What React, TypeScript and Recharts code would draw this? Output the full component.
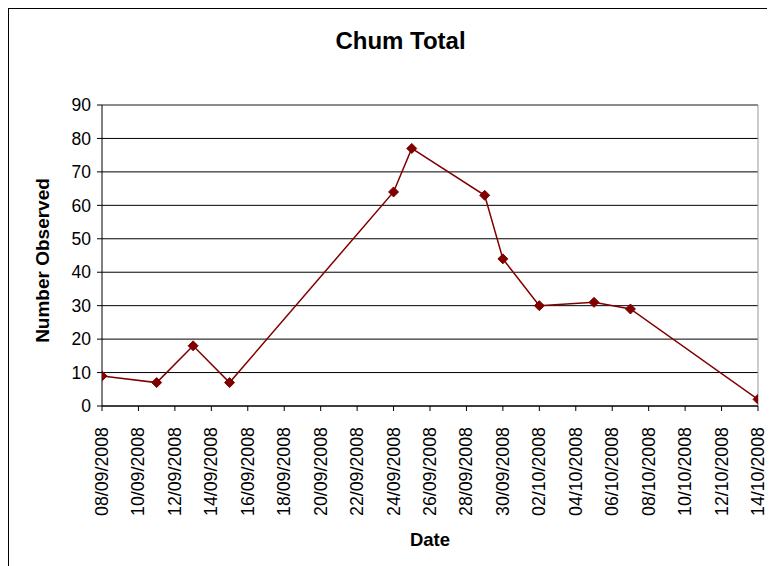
import { CartesianGrid, Label, Line, LineChart, XAxis, YAxis } from "recharts";

const sampleDates = [
  "08/09/2008", "11/09/2008", "13/09/2008", "15/09/2008", "24/09/2008", "25/09/2008",
  "29/09/2008", "30/09/2008", "02/10/2008", "05/10/2008", "07/10/2008", "14/10/2008",
];
const chumCounts = [9, 7, 18, 7, 64, 77, 63, 44, 30, 31, 29, 2];
const xTickLabels = [
  "08/09/2008", "10/09/2008", "12/09/2008", "14/09/2008", "16/09/2008", "18/09/2008",
  "20/09/2008", "22/09/2008", "24/09/2008", "26/09/2008", "28/09/2008", "30/09/2008",
  "02/10/2008", "04/10/2008", "06/10/2008", "08/10/2008", "10/10/2008", "12/10/2008",
  "14/10/2008",
];
const yTicks = [0, 10, 20, 30, 40, 50, 60, 70, 80, 90];

const FONT = "'Liberation Sans', Arial, sans-serif";
const RED = "#800000";

const toDay = (s: string) => {
  const [d, m, y] = s.split("/").map(Number);
  return Date.UTC(y, m - 1, d) / 86400000;
};
const fmtDay = (n: number) => {
  const dt = new Date(n * 86400000);
  const p = (v: number) => String(v).padStart(2, "0");
  return `${p(dt.getUTCDate())}/${p(dt.getUTCMonth() + 1)}/${dt.getUTCFullYear()}`;
};

const data = sampleDates.map((d, i) => ({ day: toDay(d), count: chumCounts[i] }));
const xTicks = xTickLabels.map(toDay);
const firstDay = xTicks[0];
const lastDay = xTicks[xTicks.length - 1];

const DateTick = (props: any) => {
  const { x, y, payload } = props;
  return (
    <g transform={`translate(${x},${y + 14})`}>
      <text
        transform="rotate(-90)"
        textAnchor="end"
        dy={6}
        fontSize={17.8}
        fontFamily={FONT}
        fill="#000"
      >
        {fmtDay(payload.value)}
      </text>
    </g>
  );
};

const Diamond = (props: any) => {
  const { cx, cy } = props;
  if (cx == null || cy == null) return null;
  const r = 5;
  return (
    <polygon
      points={`${cx},${cy - r} ${cx + r},${cy} ${cx},${cy + r} ${cx - r},${cy}`}
      fill={RED}
      stroke={RED}
      strokeWidth={1}
    />
  );
};

export default function App() {
  return (
    <div
      style={{
        position: "relative",
        width: 767,
        height: 558,
        borderLeft: "1px solid #000",
        borderTop: "1px solid #000",
        boxSizing: "border-box",
        background: "#fff",
        fontFamily: FONT,
        overflow: "hidden",
      }}
    >
      <div
        style={{
          position: "absolute",
          left: 0,
          top: 20,
          width: 766,
          paddingLeft: 17,
          boxSizing: "border-box",
          textAlign: "center",
          fontSize: 24,
          fontWeight: "bold",
          lineHeight: 1,
        }}
      >
        Chum Total
      </div>
      <LineChart
        width={766}
        height={557}
        data={data}
        margin={{ top: 96, right: 17, bottom: 38, left: 0 }}
      >
        <CartesianGrid yAxisId="left" horizontal vertical={false} stroke="#000" />
        <CartesianGrid
          yAxisId="left"
          stroke="#999"
          horizontalCoordinatesGenerator={(p: any) => [p.offset.top]}
          verticalCoordinatesGenerator={(p: any) => [p.offset.left + p.offset.width]}
        />
        <XAxis
          dataKey="day"
          type="number"
          domain={[firstDay, lastDay]}
          allowDataOverflow
          ticks={xTicks}
          interval={0}
          height={122}
          tick={<DateTick />}
          tickSize={5}
          tickLine={{ stroke: "#000" }}
          axisLine={{ stroke: "#000" }}
        >
          <Label
            content={(p: any) => {
              const vb = p.viewBox;
              return (
                <text
                  x={vb.x + vb.width / 2}
                  y={532}
                  textAnchor="middle"
                  dominantBaseline="middle"
                  fontSize={18.5}
                  fontWeight="bold"
                  fontFamily={FONT}
                  fill="#000"
                >
                  Date
                </text>
              );
            }}
          />
        </XAxis>
        <YAxis
          yAxisId="left"
          type="number"
          domain={[0, 90]}
          ticks={yTicks}
          interval={0}
          width={93}
          tickSize={5}
          tickMargin={6}
          tickLine={{ stroke: "#000" }}
          axisLine={{ stroke: "#000" }}
          tick={{ fontSize: 17.5, fontFamily: FONT, fill: "#000" }}
        >
          <Label
            content={(p: any) => {
              const vb = p.viewBox;
              const cx = 35;
              const cy = vb.y + vb.height / 2 + 5;
              return (
                <text
                  x={cx}
                  y={cy}
                  transform={`rotate(-90, ${cx}, ${cy})`}
                  textAnchor="middle"
                  dominantBaseline="middle"
                  fontSize={19}
                  fontWeight="bold"
                  fontFamily={FONT}
                  fill="#000"
                >
                  Number Observed
                </text>
              );
            }}
          />
        </YAxis>
        <Line
          yAxisId="left"
          type="linear"
          dataKey="count"
          stroke={RED}
          strokeWidth={1.5}
          dot={<Diamond />}
          activeDot={false}
          isAnimationActive={false}
        />
      </LineChart>
    </div>
  );
}
